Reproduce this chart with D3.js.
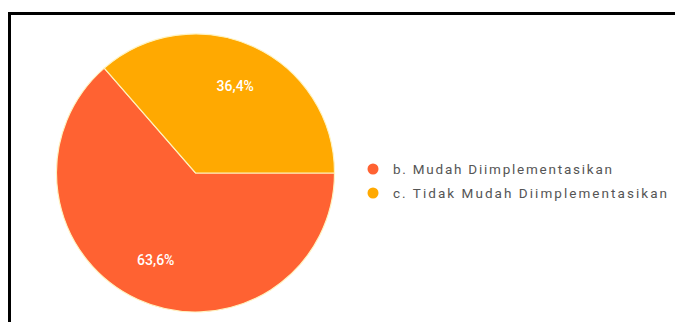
<!DOCTYPE html>
<html>
<head>
<meta charset="utf-8">
<script src="https://cdn.jsdelivr.net/npm/d3@7"></script>
<style>
  html, body { margin: 0; padding: 0; background: #fff; }
  svg { display: block; }
</style>
</head>
<body>
<svg id="chart" width="675" height="322"></svg>
<script>
// Survey answers and their shares (percent)
const categories = ["b. Mudah Diimplementasikan", "c. Tidak Mudah Diimplementasikan"];
const values = [63.6, 36.4];
const valueLabels = ["63,6%", "36,4%"];
const colors = ["#ff6232", "#ffa901"];

const svg = d3.select("#chart");
const W = 675, H = 322;

// Frame: black line along the top and left
svg.append("path")
  .attr("d", `M9.5,${H} V13.5 H${W}`)
  .attr("fill", "none")
  .attr("stroke", "#000")
  .attr("stroke-width", 3);

const cx = 195.5, cy = 173, r = 139;
const g = svg.append("g").attr("transform", `translate(${cx},${cy})`);

// Slices start at 3 o'clock and run clockwise
const pie = d3.pie()
  .sort(null)
  .value(d => d)
  .startAngle(Math.PI / 2)
  .endAngle(Math.PI / 2 + 2 * Math.PI);

const arcs = pie(values);
const arc = d3.arc().innerRadius(0).outerRadius(r);
const labelArc = d3.arc().innerRadius(r * 0.69).outerRadius(r * 0.69);

g.selectAll("path.slice")
  .data(arcs)
  .join("path")
  .attr("class", "slice")
  .attr("d", arc)
  .attr("fill", (d, i) => colors[i])
  .attr("stroke", "#fff3c0")
  .attr("stroke-width", 1.2);

g.selectAll("text.pct")
  .data(arcs)
  .join("text")
  .attr("class", "pct")
  .attr("transform", d => `translate(${labelArc.centroid(d)})`)
  .attr("text-anchor", "middle")
  .attr("dominant-baseline", "central")
  .attr("fill", "#fff")
  .attr("font-family", "Roboto, Arial, sans-serif")
  .attr("font-size", 14)
  .attr("font-weight", 500)
  .text((d, i) => valueLabels[i]);

// Legend
const legend = svg.append("g").attr("transform", "translate(373,169)");
const rowH = 24;
const rows = legend.selectAll("g.row")
  .data(categories)
  .join("g")
  .attr("class", "row")
  .attr("transform", (d, i) => `translate(0,${i * rowH})`);

rows.append("circle")
  .attr("r", 5.5)
  .attr("fill", (d, i) => colors[i]);

const legendWidths = [219, 274];
rows.append("text")
  .attr("x", 20)
  .attr("dominant-baseline", "central")
  .attr("fill", "#555")
  .attr("font-family", "Roboto, Arial, sans-serif")
  .attr("font-size", 13.5)
  .attr("textLength", (d, i) => legendWidths[i])
  .attr("lengthAdjust", "spacing")
  .text(d => d);
</script>
</body>
</html>
